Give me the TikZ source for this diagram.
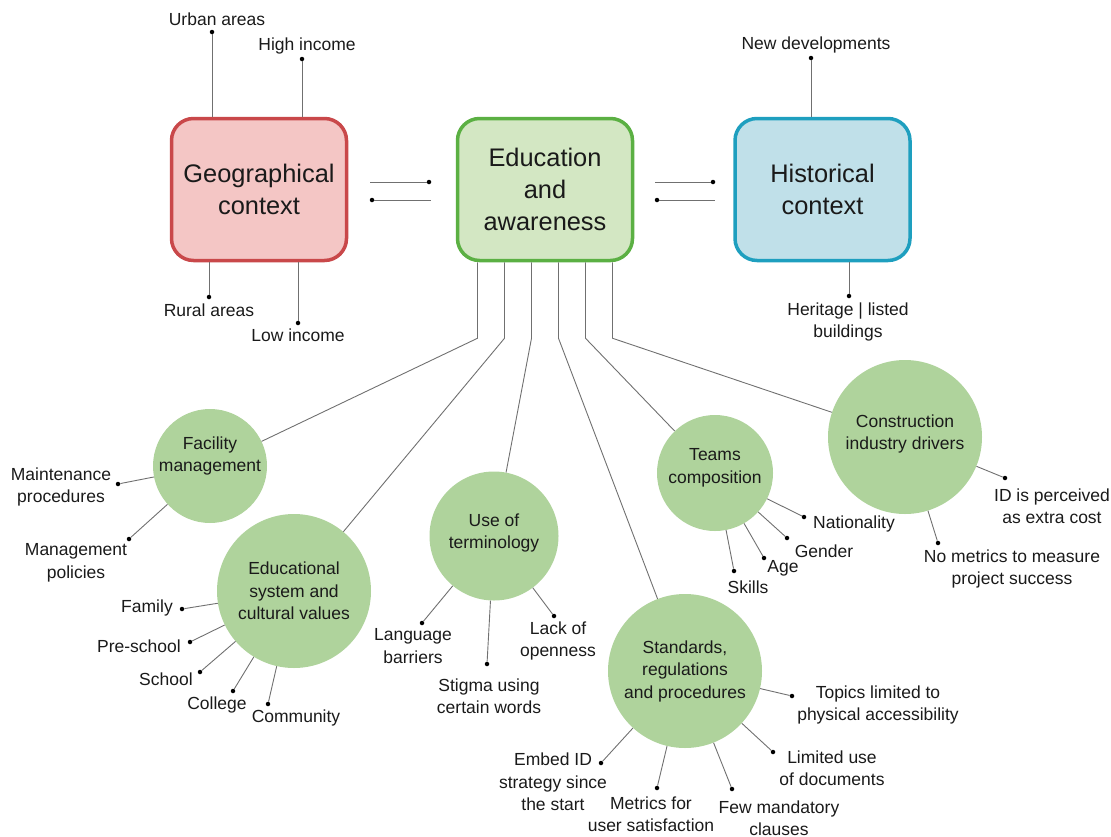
\documentclass[tikz,border=0pt]{standalone}
\usepackage{fontspec}
\setmainfont{Liberation Sans}
\usetikzlibrary{calc}
\definecolor{ink}{HTML}{1A1A1A}
\definecolor{linegray}{HTML}{707070}
\definecolor{geofill}{HTML}{F4C6C5}
\definecolor{geoline}{HTML}{C9484A}
\definecolor{edufill}{HTML}{D3E7C3}
\definecolor{eduline}{HTML}{5BB043}
\definecolor{hisfill}{HTML}{C0E0E9}
\definecolor{hisline}{HTML}{1E9FBF}
\definecolor{circfill}{HTML}{AFD39C}
\begin{document}
\begin{tikzpicture}[x=1pt,y=-1pt,
  box/.style={rectangle, rounded corners=22pt, minimum width=175pt, minimum height=142pt,
    line width=3.5pt, align=center, font=\fontsize{25.4}{32}\selectfont, text=ink, inner sep=0pt},
  circ/.style={circle, fill=circfill, inner sep=0pt},
  ctext/.style={align=center, font=\fontsize{17.5}{22.5}\selectfont, text=ink, inner sep=0pt},
  lbl/.style={ctext},
  dot/.style={circle, fill=black, inner sep=0pt, minimum size=4.5pt},
  conn/.style={draw=linegray, line width=0.9pt}]
\useasboundingbox (0,0) rectangle (1111,836);

% main boxes
\node[box, draw=geoline, fill=geofill] (geo) at (259,189.5) {Geographical\\context};
\node[box, draw=eduline, fill=edufill] (edu) at (545,189.5) {Education\\and\\awareness};
\node[box, draw=hisline, fill=hisfill] (his) at (822.5,189.5) {Historical\\context};

% sub-topic circles
\node[circ, minimum size=114pt] (fm) at (210,466) {};
\node[circ, minimum size=154pt] (es) at (294,591) {};
\node[circ, minimum size=129pt] (ut) at (494,536) {};
\node[circ, minimum size=154pt] (st) at (685,671) {};
\node[circ, minimum size=116pt] (tc) at (715,473) {};
\node[circ, minimum size=154pt] (cd) at (905,437) {};

\node[ctext] (fmt) at (210,456) {Facility\\management};
\node[ctext] (est) at (294,591) {Educational\\system and\\cultural values};
\node[ctext] (utt) at (494,533) {Use of\\terminology};
\node[ctext] (stt) at (685,671) {Standards,\\regulations\\and procedures};
\node[ctext] (tct) at (715,468) {Teams\\composition};
\node[ctext] (cdt) at (905,434) {Construction\\industry drivers};

% branches from the central box
\draw[conn] ($(edu.south)+(-67.5,0)$) -- ++(0,76) -- (fm);
\draw[conn] ($(edu.south)+(-40.5,0)$) -- ++(0,76) -- (es);
\draw[conn] ($(edu.south)+(-13.5,0)$) -- ++(0,76) -- (ut);
\draw[conn] ($(edu.south)+(13.5,0)$) -- ++(0,76) -- (st);
\draw[conn] ($(edu.south)+(40.5,0)$) -- ++(0,76) -- (tc);
\draw[conn] ($(edu.south)+(67.5,0)$) -- ++(0,76) -- (cd);

% links between the boxes
\node[dot] (gA) at (429,182) {};
\coordinate (gA0) at (370,182);
\draw[conn] (gA0) -- (gA);
\node[dot] (gB) at (372,200) {};
\coordinate (gB0) at (431,200);
\draw[conn] (gB) -- (gB0);
\node[dot] (hA) at (713,182) {};
\coordinate (hA0) at (655,182);
\draw[conn] (hA0) -- (hA);
\node[dot] (hB) at (657,200) {};
\coordinate (hB0) at (715,200);
\draw[conn] (hB) -- (hB0);

% geographical context
\node[dot] (dUrb) at (212,32) {};
\node[lbl] (lUrb) at (217,19) {Urban areas};
\draw[conn] (dUrb) -- (dUrb |- geo.north);
\node[dot] (dHig) at (302,59) {};
\node[lbl] (lHig) at (307,46) {High income};
\draw[conn] (dHig) -- (dHig |- geo.north);
\node[dot] (dRur) at (209,297) {};
\node[lbl] (lRur) at (209,310) {Rural areas};
\draw[conn] (dRur) -- (dRur |- geo.south);
\node[dot] (dLow) at (298,323) {};
\node[lbl] (lLow) at (298,335) {Low income};
\draw[conn] (dLow) -- (dLow |- geo.south);

% historical context
\node[dot] (dNew) at (811,58) {};
\node[lbl] (lNew) at (816,45) {New developments};
\draw[conn] (dNew) -- (dNew |- his.north);
\node[dot] (dHer) at (849,296) {};
\node[lbl] (lHer) at (848,322) {Heritage | listed\\buildings};
\draw[conn] (dHer) -- (dHer |- his.south);

% facility management
\node[dot] (dMai) at (118,484) {};
\node[lbl] (lMai) at (61,487) {Maintenance\\procedures};
\draw[conn] (fm) -- (dMai);
\node[dot] (dMan) at (129,539) {};
\node[lbl] (lMan) at (76,563) {Management\\policies};
\draw[conn] (fm) -- (dMan);

% educational system and cultural values
\node[dot] (dFam) at (182,609) {};
\node[lbl] (lFam) at (147,608) {Family};
\draw[conn] (es) -- (dFam);
\node[dot] (dPre) at (190,642) {};
\node[lbl] (lPre) at (139,646) {Pre-school};
\draw[conn] (es) -- (dPre);
\node[dot] (dSch) at (200,672) {};
\node[lbl] (lSch) at (166,679) {School};
\draw[conn] (es) -- (dSch);
\node[dot] (dCol) at (233,691) {};
\node[lbl] (lCol) at (217,705) {College};
\draw[conn] (es) -- (dCol);
\node[dot] (dCom) at (268,704) {};
\node[lbl] (lCom) at (296,718) {Community};
\draw[conn] (es) -- (dCom);

% use of terminology
\node[dot] (dLan) at (422,623) {};
\node[lbl] (lLan) at (413,646) {Language\\barriers};
\draw[conn] (ut) -- (dLan);
\node[dot] (dSti) at (487,664) {};
\node[lbl] (lSti) at (489,696) {Stigma using\\certain words};
\draw[conn] (ut) -- (dSti);
\node[dot] (dLac) at (554,616) {};
\node[lbl] (lLac) at (558,641) {Lack of\\openness};
\draw[conn] (ut) -- (dLac);

% standards, regulations and procedures
\node[dot] (dTop) at (792,696) {};
\node[lbl] (lTop) at (878,705) {Topics limited to\\physical accessibility};
\draw[conn] (st) -- (dTop);
\node[dot] (dLim) at (773,752) {};
\node[lbl] (lLim) at (832,768) {Limited use\\of documents};
\draw[conn] (st) -- (dLim);
\node[dot] (dFew) at (732,789) {};
\node[lbl] (lFew) at (779,818) {Few mandatory\\clauses};
\draw[conn] (st) -- (dFew);
\node[dot] (dMet) at (657,788) {};
\node[lbl] (lMet) at (651,814) {Metrics for\\user satisfaction};
\draw[conn] (st) -- (dMet);
\node[dot] (dEmb) at (601,763) {};
\node[lbl] (lEmb) at (553,782) {Embed ID\\strategy since\\the start};
\draw[conn] (st) -- (dEmb);

% teams composition
\node[dot] (dNat) at (804,517) {};
\node[lbl] (lNat) at (854,524) {Nationality};
\draw[conn] (tc) -- (dNat);
\node[dot] (dGen) at (787,538) {};
\node[lbl] (lGen) at (824,551) {Gender};
\draw[conn] (tc) -- (dGen);
\node[dot] (dAge) at (764,558) {};
\node[lbl] (lAge) at (783,568) {Age};
\draw[conn] (tc) -- (dAge);
\node[dot] (dSki) at (734,571) {};
\node[lbl] (lSki) at (748,587) {Skills};
\draw[conn] (tc) -- (dSki);

% construction industry drivers
\node[dot] (dCos) at (1005,478) {};
\node[lbl] (lCos) at (1052,506) {ID is perceived\\as extra cost};
\draw[conn] (cd) -- (dCos);
\node[dot] (dNom) at (938,543) {};
\node[lbl] (lNom) at (1012,569) {No metrics to measure\\project success};
\draw[conn] (cd) -- (dNom);
\end{tikzpicture}
\end{document}
